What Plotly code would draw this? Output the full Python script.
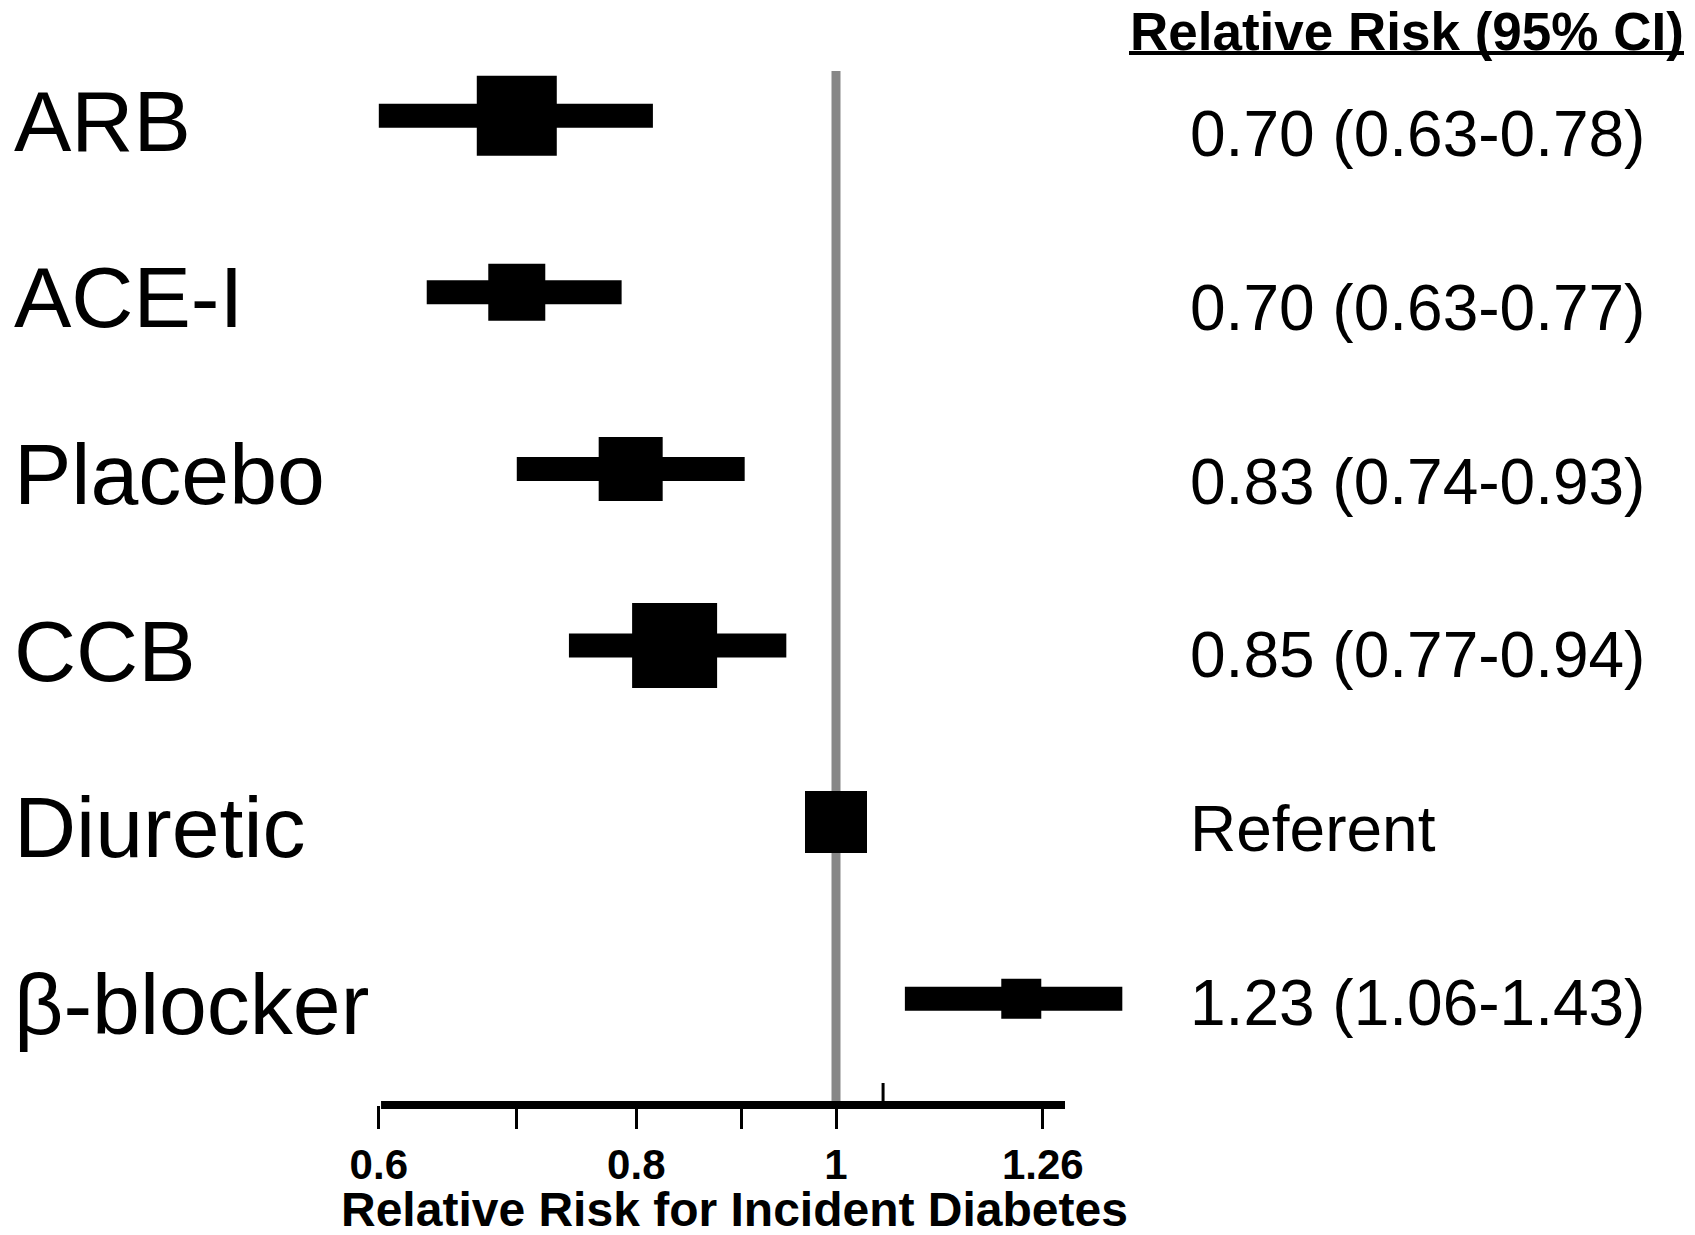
import math
import plotly.graph_objects as go

# ---- data ----
drugs = ["ARB", "ACE-I", "Placebo", "CCB", "Diuretic", "β-blocker"]
# point estimates and interval ends as drawn on the (log) axis
rr_est = [0.70, 0.70, 0.795, 0.835, 1.0, 1.23]
ci_low = [0.60, 0.633, 0.70, 0.742, None, 1.08]
ci_high = [0.815, 0.787, 0.903, 0.946, None, 1.377]
rr_text = ["0.70 (0.63-0.78)", "0.70 (0.63-0.77)", "0.83 (0.74-0.93)",
           "0.85 (0.77-0.94)", "Referent", "1.23 (1.06-1.43)"]
tick_vals = [0.6, 0.7, 0.8, 0.9, 1.0, 1.26]
tick_text = ["0.6", "", "0.8", "", "1", "1.26"]

# ---- style ----
box_size_px = [80, 57, 64, 85, 62, 40]
FONT = "Arial, 'Liberation Sans', sans-serif"
W, H = 1695, 1235
PLOT_H = 1105  # plot area height (axis line at bottom)

fig = go.Figure()

# confidence interval bars
for d, lo, hi in zip(drugs, ci_low, ci_high):
    if lo is None:
        continue
    fig.add_trace(go.Scatter(x=[lo, hi], y=[d, d], mode="lines",
                             line=dict(color="black", width=24),
                             hoverinfo="skip", showlegend=False))

# point estimate boxes
fig.add_trace(go.Scatter(x=rr_est, y=drugs, mode="markers",
                         marker=dict(symbol="square", size=box_size_px,
                                     color="black", opacity=1,
                                     line=dict(width=0)),
                         showlegend=False))


def py(px):
    """pixel row (from top of figure) -> paper y of plot area"""
    return (PLOT_H - px) / PLOT_H


annotations = []
for d in drugs:
    annotations.append(dict(x=12 / W, xref="paper", y=d, yref="y", text=d,
                            xanchor="left", yanchor="middle", yshift=-5,
                            showarrow=False,
                            font=dict(family=FONT, size=86, color="black")))
for i, t in enumerate(rr_text):
    annotations.append(dict(x=1188 / W, xref="paper", y=py(134 + 173.8 * i),
                            yref="paper", text=t,
                            xanchor="left", yanchor="middle",
                            showarrow=False,
                            font=dict(family=FONT, size=64, color="black")))
annotations.append(dict(x=1407 / W, xref="paper", y=py(31),
                        yref="paper", text="<b>Relative Risk (95% CI)</b>",
                        xanchor="center", yanchor="middle", showarrow=False,
                        font=dict(family=FONT, size=53, color="black")))
annotations.append(dict(x=734 / W, xref="paper", y=py(1209),
                        yref="paper",
                        text="<b>Relative Risk for Incident Diabetes</b>",
                        xanchor="center", yanchor="middle", showarrow=False,
                        borderpad=0,
                        font=dict(family=FONT, size=48, color="black")))

shapes = [
    # reference line at RR = 1
    dict(type="line", xref="x", yref="paper", x0=1, x1=1, y0=0,
         y1=py(71), line=dict(color="#878787", width=9), layer="below"),
    # axis line
    dict(type="line", xref="x", yref="paper", x0=0.6015, x1=1.2916, y0=0, y1=0,
         line=dict(color="black", width=8)),
    # small upward tick
    dict(type="line", xref="x", yref="paper", x0=1.054, x1=1.054, y0=0,
         y1=22 / PLOT_H, line=dict(color="black", width=3)),
    # header underline
    dict(type="line", xref="paper", yref="paper", x0=1129 / W, x1=1684 / W,
         y0=py(53), y1=py(53), line=dict(color="black", width=4)),
]

# log axis: pixel = 836 + 2060.8*log10(v)
px_per_dec = 2060.8
x0_log = -836 / px_per_dec
x1_log = (W - 836) / px_per_dec

# categorical rows: centre of first row at 115.7 px, spacing 176.6 px
top_idx = -115.7 / 176.6
bot_idx = (PLOT_H - 115.7) / 176.6

fig.update_layout(
    width=W, height=H,
    margin=dict(l=0, r=0, t=0, b=H - PLOT_H, pad=0),
    paper_bgcolor="white", plot_bgcolor="white",
    xaxis=dict(type="log", range=[x0_log, x1_log], tickvals=tick_vals,
               ticktext=tick_text, ticks="outside", ticklen=23, tickwidth=3,
               tickcolor="black", showline=False, showgrid=False,
               zeroline=False,
               tickfont=dict(family=FONT, size=42, color="black",
                             weight="bold")),
    yaxis=dict(type="category", categoryorder="array", categoryarray=drugs,
               range=[bot_idx, top_idx], showticklabels=False, ticks="",
               showline=False, showgrid=False, zeroline=False),
    annotations=annotations,
    shapes=shapes,
)

fig.write_html("out.html")
